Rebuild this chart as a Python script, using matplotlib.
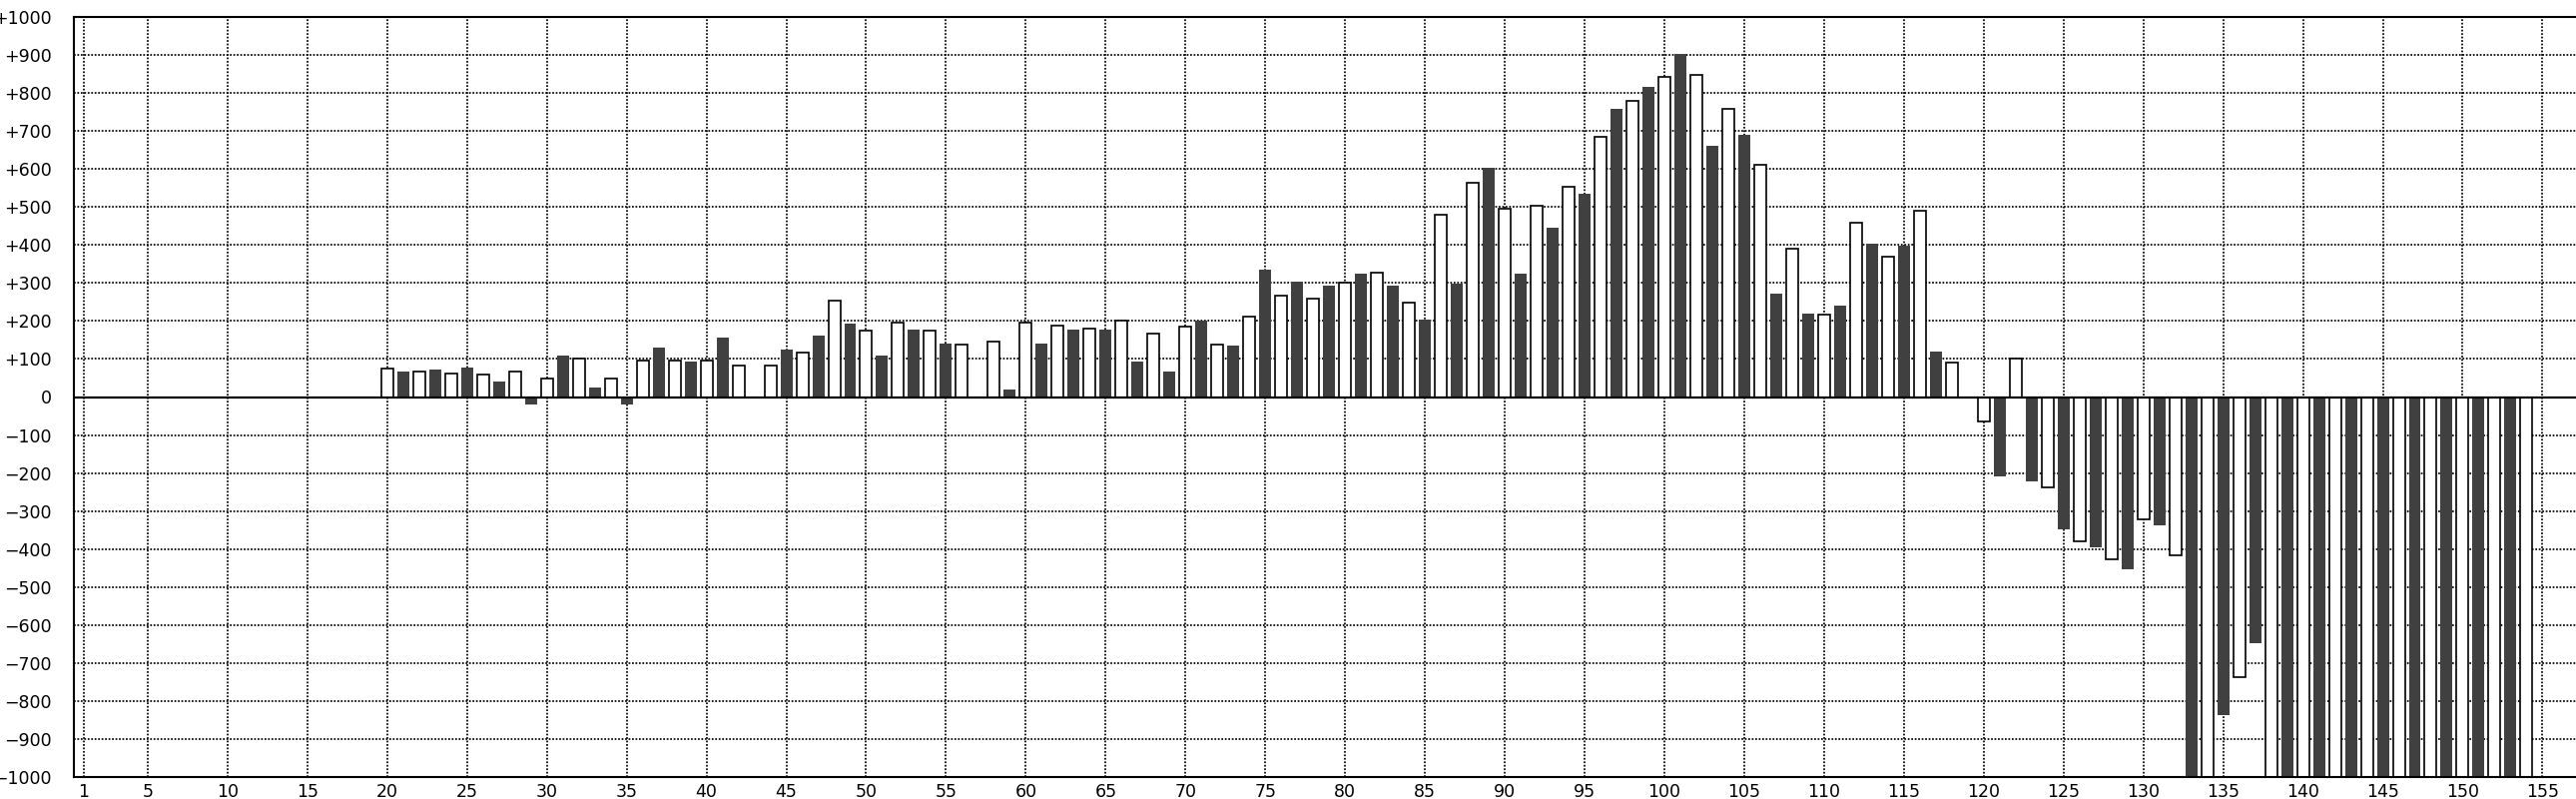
import numpy as np
import matplotlib
matplotlib.use("Agg")
import matplotlib.pyplot as plt
from matplotlib.ticker import FixedLocator, FuncFormatter

# bar values, one per position starting at position 20 (positions 1-19 are empty)
first_pos = 20
values = [
    75, 67, 68, 73, 63, 78, 58, 41, 68, -21,          # 20-29
    48, 110, 100, 25, 48, -21, 96, 131, 96, 94,       # 30-39
    96, 157, 84, 0, 84, 125, 116, 162, 253, 194,      # 40-49
    175, 110, 196, 178, 174, 141, 137, 0, 147, 20,    # 50-59
    196, 141, 189, 178, 179, 178, 200, 94, 168, 68,   # 60-69
    184, 200, 137, 136, 211, 336, 268, 304, 258, 294, # 70-79
    300, 325, 326, 294, 248, 204, 479, 299, 563, 603, # 80-89
    495, 325, 504, 446, 553, 536, 684, 757, 779, 815, # 90-99
    842, 904, 847, 662, 758, 689, 611, 273, 389, 220, # 100-109
    216, 241, 458, 404, 368, 399, 489, 120, 90, 0,    # 110-119
    -64, -210, 100, -221, -238, -347, -380, -395, -427, -453,  # 120-129
    -322, -337, -417, -1000, -1000, -837, -738, -647, -1000, -1000,  # 130-139
    -1000, -1000, -1000, -1000, -1000, -1000, -1000, -1000, -1000, -1000,  # 140-149
    -1000, -1000, -1000, -1000, -1000,                # 150-154
]
x_ticks = [1, 5, 10, 15, 20, 25, 30, 35, 40, 45, 50, 55, 60, 65, 70, 75, 80,
           85, 90, 95, 100, 105, 110, 115, 120, 125, 130, 135, 140, 145, 150, 155]
y_ticks = list(range(-1000, 1001, 100))

DARK = "#404040"

pos = np.arange(first_pos, first_pos + len(values))
vals = np.array(values)
even = pos % 2 == 0

fig = plt.figure(figsize=(25.8, 8), dpi=100)
ax = fig.add_axes([74 / 2580, 22 / 800, 1 - 74 / 2580, 761 / 800])

# white (even) bars with outline, dark (odd) bars solid
ax.bar(pos[even], vals[even], width=0.75, facecolor="white", edgecolor="black",
       linewidth=1.2, zorder=3)
ax.bar(pos[~even], vals[~even], width=0.75, facecolor=DARK, edgecolor="none",
       zorder=3)

ax.axhline(0, color="black", linewidth=1.6, zorder=4)

ax.set_xlim(0.375, 157.1)
ax.set_ylim(-1000, 1000)
ax.xaxis.set_major_locator(FixedLocator(x_ticks))
ax.yaxis.set_major_locator(FixedLocator(y_ticks))


def fmt_y(v, _):
    v = int(round(v))
    if v > 0:
        return f"+{v}"
    if v < 0:
        return f"\u2212{-v}"
    return "0"


ax.yaxis.set_major_formatter(FuncFormatter(fmt_y))
ax.tick_params(axis="both", length=0, labelsize=12.5, colors="black")
ax.tick_params(axis="y", pad=16)
ax.tick_params(axis="x", pad=4)

ax.grid(True, color="black", linewidth=1.25, linestyle=(0, (1.0, 1.0)), zorder=1)
ax.set_axisbelow(True)

for side in ("left", "top", "bottom"):
    ax.spines[side].set_linewidth(1.5)
    ax.spines[side].set_zorder(5)
ax.spines["right"].set_visible(False)

fig.savefig("out.png", dpi=100)
